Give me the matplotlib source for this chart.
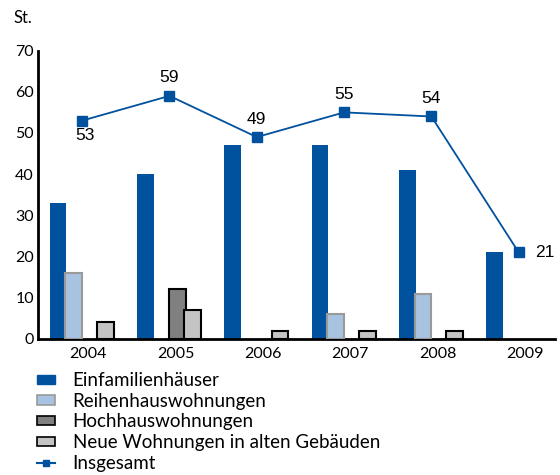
import numpy as np
import matplotlib.pyplot as plt
from matplotlib.patches import Patch
from matplotlib.lines import Line2D

# Daten
jahre = ['2004', '2005', '2006', '2007', '2008', '2009']
einfamilien = [33, 40, 47, 47, 41, 21]
reihenhaus = [16, 0, 0, 6, 11, 0]
hochhaus = [0, 12, 0, 0, 0, 0]
neue_alt = [4, 7, 2, 2, 2, 0]
insgesamt = [53, 59, 49, 55, 54, 21]

blau = '#00519e'
hellblau = '#a8c3df'
dunkelgrau = '#808080'
hellgrau = '#c4c4c4'

plt.rcParams['font.family'] = ['Lato', 'DejaVu Sans']

fig = plt.figure(figsize=(5.6, 4.75), dpi=100)
ax = fig.add_axes([0.068, 0.2865, 0.923, 0.607])

x = np.arange(len(jahre))
w = 0.19
ax.bar(x - 0.345, einfamilien, w, color=blau, zorder=2)
ax.bar(x - 0.168, [v if v else np.nan for v in reihenhaus], w, color=hellblau,
       edgecolor='#9a9a9a', linewidth=1.5, zorder=3)
ax.bar(x + 0.02, [v if v else np.nan for v in hochhaus], w, color=dunkelgrau,
       edgecolor='black', linewidth=1.5, zorder=3)
ax.bar(x + 0.195, [v if v else np.nan for v in neue_alt], w, color=hellgrau,
       edgecolor='black', linewidth=1.5, zorder=3)

xl = x - 0.07
ax.plot(xl, insgesamt, color=blau, lw=1.3, marker='s', ms=7, zorder=4)

# Beschriftungen der Gesamtwerte
offsets = [(2, -11), (0, 13), (0, 13), (0, 13), (0, 13), (19, 0)]
for xi, v, (dx, dy) in zip(xl, insgesamt, offsets):
    ax.annotate(str(v), (xi, v), xytext=(dx, dy), textcoords='offset points',
                ha='center', va='center', fontsize=12.5,
                family='Liberation Sans', zorder=5)

ax.set_xlim(-0.575, 5.345)
ax.set_ylim(0, 70)
ax.set_yticks(range(0, 71, 10))
ax.set_xticks(x)
ax.set_xticklabels(jahre)
ax.tick_params(axis='both', length=0, labelsize=11.5)
ax.tick_params(axis='x', pad=6)
ax.tick_params(axis='y', pad=3)
for s in ['top', 'right']:
    ax.spines[s].set_visible(False)
ax.spines['left'].set_linewidth(2)
ax.spines['bottom'].set_linewidth(2)

fig.text(0.025, 0.962, 'St.', fontsize=12, va='center', ha='left')

handles = [
    Patch(facecolor=blau, edgecolor=blau, label='Einfamilienhäuser'),
    Patch(facecolor=hellblau, edgecolor='#9a9a9a', lw=1.2, label='Reihenhauswohnungen'),
    Patch(facecolor=dunkelgrau, edgecolor='black', lw=1.2, label='Hochhauswohnungen'),
    Patch(facecolor=hellgrau, edgecolor='black', lw=1.2, label='Neue Wohnungen in alten Gebäuden'),
    Line2D([], [], color=blau, lw=1.5, marker='s', ms=5, label='Insgesamt'),
]
fig.legend(handles=handles, loc='upper left', bbox_to_anchor=(0.066, 0.217),
           frameon=False, fontsize=13.5, handlelength=0.97, handleheight=0.37,
           handletextpad=0.93, labelspacing=0.2, borderaxespad=0, borderpad=0)

fig.savefig('out.png', dpi=100)
